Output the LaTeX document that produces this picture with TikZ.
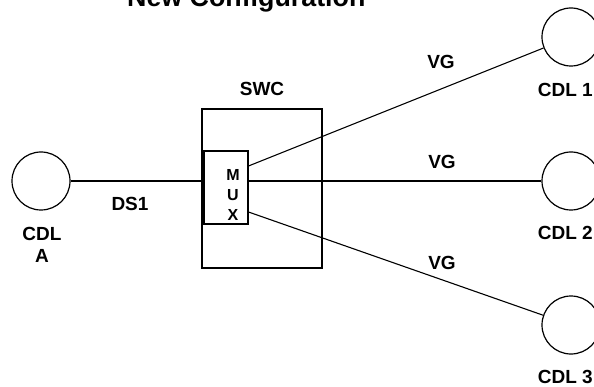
\documentclass[tikz,border=0pt]{standalone}
\usepackage{fontspec}
\setmainfont{Liberation Sans}
\begin{document}
\begin{tikzpicture}[x=1pt,y=-1pt,
  every node/.style={font=\bfseries},
  cdl/.style={draw,circle,minimum size=58pt,inner sep=0pt,line width=1.2pt},
  box/.style={draw,line width=1.1pt,inner sep=0pt},
  wire/.style={line width=1.1pt},
  lbl/.style={font=\fontsize{19}{22}\selectfont\bfseries,inner sep=0pt,align=center}]
\useasboundingbox (0,0) rectangle (594,387);
\node[lbl,anchor=base west,font=\fontsize{26.8}{30}\selectfont\bfseries] (title) at (127,7) {New Configuration};
% circles
\node[cdl] (ca) at (41,181) {};
\node[cdl] (c1) at (571,37) {};
\node[cdl] (c2) at (571,181) {};
\node[cdl] (c3) at (571,325) {};
% boxes
\draw[box] (202,109) rectangle (322,268);
\node[box,minimum width=44pt,minimum height=73pt] (mux) at (226,187.5) {};
\node[lbl,font=\fontsize{16}{20}\selectfont\bfseries] (muxt) at (233,195) {M\\U\\X};
\node[lbl] (swc) at (262,89) {SWC};
% coordinates
\coordinate (m1) at (248.5,166);
\coordinate (m2) at (248.5,181);
\coordinate (m3) at (248.5,212);
% wires
\draw[wire] (ca.east) -- (ca.east -| mux.west);
\draw[wire] (m1) -- (c1);
\draw[wire] (m2) -- (c2.west);
\draw[wire] (m3) -- (c3);
% labels
\node[lbl] (ds1) at (130,204) {DS1};
\node[lbl] (cal) at (42,245) {CDL\\A};
\node[lbl,anchor=east] (c1l) at (593,90) {CDL 1};
\node[lbl,anchor=east] (c2l) at (593,233) {CDL 2};
\node[lbl,anchor=east] (c3l) at (593,377) {CDL 3};
\node[lbl] (vg1) at (441,62) {VG};
\node[lbl] (vg2) at (442,162) {VG};
\node[lbl] (vg3) at (442,263) {VG};
\end{tikzpicture}
\end{document}
